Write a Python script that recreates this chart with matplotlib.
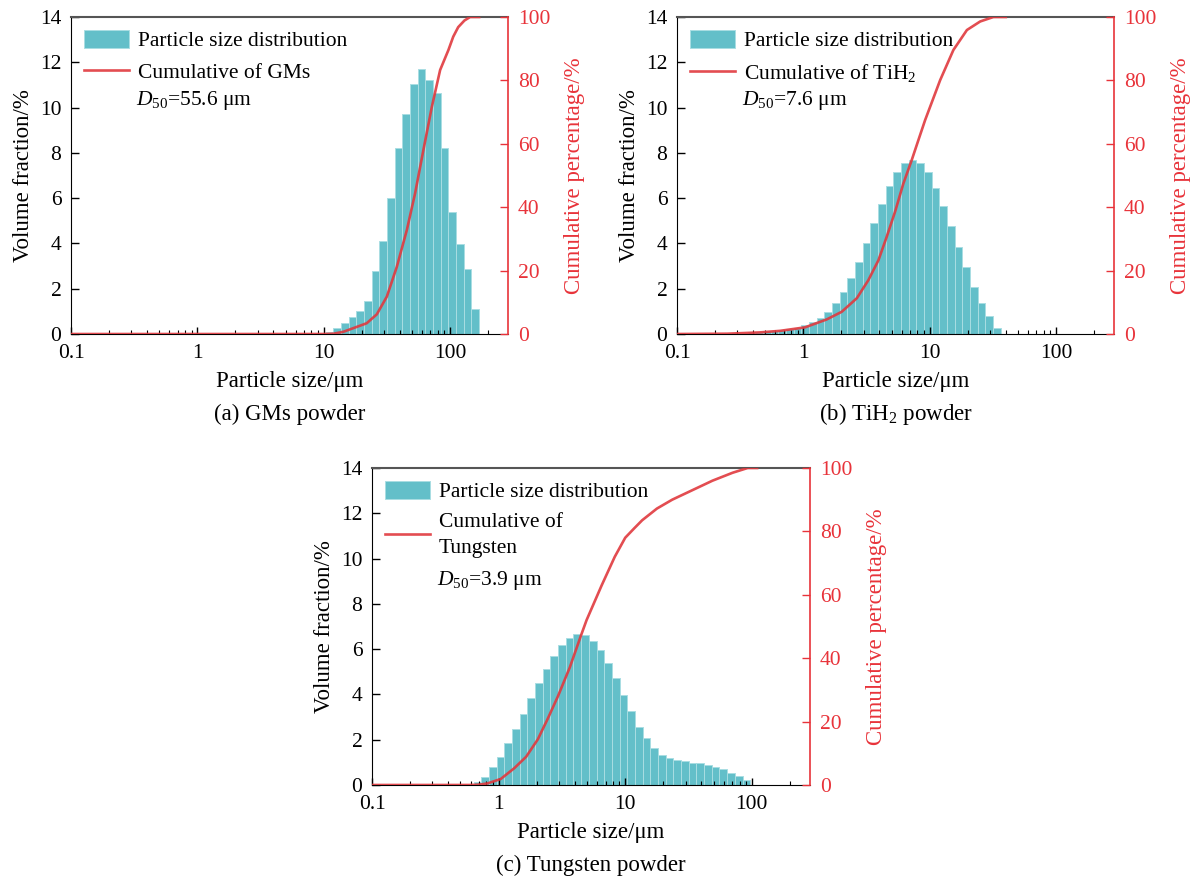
import numpy as np
import matplotlib
matplotlib.use("Agg")
import matplotlib.pyplot as plt
from matplotlib.ticker import FixedLocator, FuncFormatter, LogLocator, NullFormatter

plt.rcParams['font.family'] = ['Liberation Serif', 'DejaVu Serif']
plt.rcParams['mathtext.fontset'] = 'custom'
plt.rcParams['mathtext.rm'] = 'Liberation Serif'
plt.rcParams['mathtext.it'] = 'Liberation Serif:italic'

# shared size bin edges (um) of the analyser
size_edges = [0.274, 0.315, 0.362, 0.417, 0.479, 0.551, 0.634, 0.729, 0.838, 0.963,
              1.108, 1.275, 1.466, 1.686, 1.940, 2.231, 2.566, 2.951, 3.392, 3.902,
              4.487, 5.160, 5.934, 6.824, 7.848, 9.025, 10.38, 11.94, 13.72, 15.78,
              18.15, 20.87, 24.00, 27.60, 31.74, 36.50, 41.97, 48.27, 55.51, 63.84,
              73.41, 84.42, 97.09, 111.6, 128.4, 147.6, 169.8]

# (a) GMs
gms_first_bin = 26
gms_vol = [0.10, 0.28, 0.47, 0.76, 1.03, 1.47, 2.80, 4.12, 6.02, 8.23, 9.70, 11.04,
           11.70, 11.22, 10.63, 8.23, 5.40, 3.97, 2.87, 1.10]
gms_cum_size = [0.1, 10.0, 12.0, 14.3, 21.9, 26.3, 31.6, 37.9, 45.5, 52.9, 61.5, 71.8,
                83.5, 97.1, 106.0, 116.0, 130.0, 144.0, 170.0]
gms_cum = [0.0, 0.0, 0.1, 0.7, 3.4, 6.2, 11.8, 21.2, 32.8, 44.4, 58.0, 71.7,
           83.3, 89.6, 93.8, 96.8, 98.9, 100.0, 100.0]

# (b) TiH2
tih_first_bin = 0
tih_vol = [0.04, 0.06, 0.08, 0.10, 0.12, 0.14, 0.17, 0.20, 0.25,
           0.40, 0.53, 0.69, 0.99, 1.36, 1.84, 2.46, 3.19, 4.00, 4.89, 5.74, 6.54,
           7.17, 7.57, 7.69, 7.57, 7.14, 6.46, 5.67, 4.78, 3.83, 2.97, 2.09, 1.36,
           0.80, 0.25]
tih_cum_size = [0.1, 0.25, 0.45, 0.654, 1.03, 1.53, 2.01, 2.65, 3.27, 3.93, 4.57, 5.32,
                6.19, 7.21, 8.14, 9.20, 12.1, 15.4, 19.7, 25.1, 31.9, 40.0]
tih_cum = [0.0, 0.1, 0.5, 1.0, 2.1, 4.6, 7.0, 11.3, 17.0, 23.3, 30.7, 38.6,
           47.5, 54.9, 61.2, 67.5, 80.1, 89.6, 95.9, 98.6, 100.0, 100.0]

# (c) Tungsten
w_first_bin = 6
w_vol = [0.12, 0.37, 0.81, 1.25, 1.84, 2.46, 3.12, 3.83, 4.49, 5.12, 5.71, 6.17,
         6.48, 6.65, 6.63, 6.37, 5.95, 5.37, 4.71, 3.98, 3.28, 2.58, 2.09, 1.65,
         1.34, 1.19, 1.10, 1.05, 0.99, 0.96, 0.87, 0.81, 0.69, 0.54, 0.40, 0.22]
w_cum_size = [0.1, 0.6, 0.7, 0.818, 1.04, 1.33, 1.65, 2.04, 2.45, 2.95, 3.65, 4.44,
              4.95, 6.52, 8.27, 10.0, 11.8, 13.6, 17.8, 23.5, 33.9, 48.9, 70.5, 92.7,
              110.0]
w_cum = [0.0, 0.0, 0.1, 0.5, 1.9, 5.3, 8.9, 14.4, 21.0, 28.1, 37.1, 46.8,
         52.0, 63.0, 72.0, 78.0, 81.0, 83.5, 87.2, 90.0, 93.0, 96.0, 98.5, 100.0,
         100.0]

bar_color = '#63bfc9'
line_color = '#e0393e'
red = '#e8333a'
fs_tick = 15.5
fs_label = 16.5

fig = plt.figure(figsize=(12, 8.82), dpi=100)


def panel(rect, first, vol, csize, cum, cum_label, d50, d50_y, caption):
    ax = fig.add_axes(rect)
    edges = np.array(size_edges[first:first + len(vol) + 1])
    ax.bar(edges[:-1], vol, width=np.diff(edges), align='edge', color=bar_color,
           edgecolor='#a9dde2', linewidth=0.7, label='Particle size distribution')
    ax.set_xscale('log')
    ax.set_xlim(0.1, 288)
    ax.set_ylim(0, 14)
    ax.set_yticks(range(0, 15, 2))
    ax.xaxis.set_major_locator(FixedLocator([0.1, 1, 10, 100]))
    ax.xaxis.set_major_formatter(FuncFormatter(lambda v, p: '%g' % v))
    ax.xaxis.set_minor_locator(LogLocator(base=10, subs=np.arange(2, 10)))
    ax.xaxis.set_minor_formatter(NullFormatter())
    ax.tick_params(which='major', direction='in', length=5, width=1, labelsize=fs_tick,
                   top=False, right=False, pad=7)
    ax.tick_params(which='minor', direction='in', length=3, width=0.8, top=False)
    ax.tick_params(axis='y', length=6)
    ax.spines['top'].set_color('#555555')
    ax.spines['top'].set_linewidth(1.5)
    ax.spines['right'].set_visible(False)
    ax.set_xlabel('Particle size/μm', fontsize=fs_label, labelpad=6)
    ax.set_ylabel('Volume fraction/%', fontsize=fs_label, labelpad=4)

    ax2 = ax.twinx()
    ax2.plot(csize, cum, color=line_color, lw=1.9, alpha=0.9, label=cum_label)
    ax2.set_ylim(0, 100)
    ax2.set_yticks(range(0, 101, 20))
    ax2.tick_params(axis='y', direction='in', length=6, width=1, colors=red,
                    labelsize=fs_tick, pad=7)
    ax2.spines['right'].set_color(red)
    ax2.spines['right'].set_linewidth(1.2)
    ax2.spines['top'].set_visible(False)
    ax2.spines['left'].set_visible(False)
    ax2.spines['bottom'].set_visible(False)
    ax2.set_ylabel('Cumulative percentage/%', color=red, fontsize=fs_label, labelpad=10)

    h1, l1 = ax.get_legend_handles_labels()
    h2, l2 = ax2.get_legend_handles_labels()
    leg = ax2.legend(h1 + h2, l1 + l2, loc='upper left', bbox_to_anchor=(0.0, 1.0),
                     frameon=False, fontsize=fs_tick, handlelength=2.1,
                     handleheight=0.9, handletextpad=0.4, labelspacing=0.5,
                     borderaxespad=0.2)
    for t in leg.get_texts():
        t.set_linespacing(1.5)
    ax2.text(0.149, d50_y, d50, transform=ax2.transAxes,
             fontsize=fs_tick, va='center', ha='left')
    x0, y0, w, h = rect
    fig.text(x0 + w / 2, y0 - 0.0907, caption, fontsize=fs_label, ha='center',
             va='center')
    return ax


panel([0.0592, 0.6213, 0.3642, 0.3594], gms_first_bin, gms_vol, gms_cum_size, gms_cum,
      'Cumulative of GMs', '$D_{50}$=55.6 μm', 0.738, '(a) GMs powder')
panel([0.5642, 0.6213, 0.3642, 0.3594], tih_first_bin, tih_vol, tih_cum_size, tih_cum,
      'Cumulative of TiH$_2$', '$D_{50}$=7.6 μm', 0.738, '(b) TiH$_2$ powder')
panel([0.3100, 0.1100, 0.3650, 0.3594], w_first_bin, w_vol, w_cum_size, w_cum,
      'Cumulative of\nTungsten', '$D_{50}$=3.9 μm', 0.645, '(c) Tungsten powder')

fig.savefig('out.png', dpi=100)
